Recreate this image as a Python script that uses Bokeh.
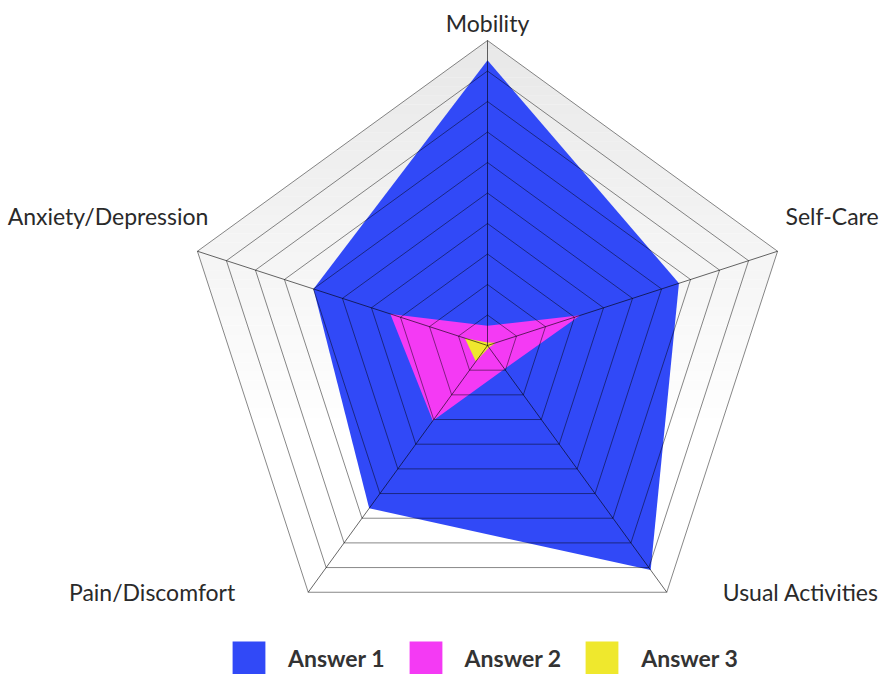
import numpy as np
from bokeh.plotting import figure
from bokeh.models import Range1d, Legend, LegendItem, ColumnDataSource
from bokeh.core.properties import value
from bokeh.embed import file_html
from bokeh.resources import INLINE

# ---------------- data ----------------
categories = ["Mobility", "Self-Care", "Usual Activities", "Pain/Discomfort", "Anxiety/Depression"]
answer1 = [93.5, 66.0, 91.0, 66.0, 60.0]
answer2 = [6.5, 32.0, 9.5, 30.5, 33.5]
answer3 = [1.0, 2.8, 0.8, 6.5, 7.8]
series_names = ["Answer 1", "Answer 2", "Answer 3"]
grid_levels = [10, 20, 30, 40, 50, 60, 70, 80, 90, 100]

# ---------------- style ----------------
colors = ["#3149F7", "#F43AF4", "#EFE82D"]
FONT = "Lato"
PX = 3.05  # pixels per data unit
R = 100.0
W, H = 881, 674
CX, CY = 487, 345

angles = np.deg2rad(90 - 72 * np.arange(len(categories)))

def polar(vals):
    v = np.asarray(vals, dtype=float)
    return list(v * np.cos(angles)), list(v * np.sin(angles))

p = figure(width=W, height=H,
           x_range=Range1d(-CX / PX, (W - CX) / PX),
           y_range=Range1d(-(H - CY) / PX, CY / PX),
           output_backend="svg", toolbar_location=None, min_border=0,
           x_axis_type=None, y_axis_type=None)
p.grid.visible = False
p.outline_line_color = None

# background gradient clipped to pentagon
ox, oy = polar([R] * len(categories))
pent = list(zip(ox, oy))

def clip(poly, y0, y1):
    def half(pts, keep, inter):
        out = []
        n = len(pts)
        for i in range(n):
            a, b = pts[i], pts[(i + 1) % n]
            ka, kb = keep(a), keep(b)
            if ka:
                out.append(a)
            if ka != kb:
                out.append(inter(a, b))
        return out
    def iy(yc):
        def f(a, b):
            t = (yc - a[1]) / (b[1] - a[1])
            return (a[0] + t * (b[0] - a[0]), yc)
        return f
    pts = half(poly, lambda q: q[1] >= y0, iy(y0))
    if not pts:
        return pts
    pts = half(pts, lambda q: q[1] <= y1, iy(y1))
    return pts

nb = 60
edges = np.linspace(min(oy), R, nb + 1)
bx, by, bc = [], [], []
for i in range(nb):
    y0, y1 = edges[i], edges[i + 1]
    pts = clip(pent, y0, y1 + 0.05)
    if len(pts) < 3:
        continue
    ym_px = CY - 0.5 * (y0 + y1) * PX
    t = min(max((ym_px - 40) / (430 - 40), 0), 1)
    g = int(round(232 + (255 - 232) * t))
    bx.append([q[0] for q in pts])
    by.append([q[1] for q in pts])
    bc.append("#%02x%02x%02x" % (g, g, g))
p.patches(bx, by, fill_color=bc, line_color=None)

# data polygons
renderers = []
for vals, c in zip([answer1, answer2, answer3], colors):
    x, y = polar(vals)
    r = p.patch(x, y, fill_color=c, fill_alpha=1.0, line_color=None)
    renderers.append(r)

# grid rings and spokes on top
gx, gy = [], []
for lv in grid_levels:
    x, y = polar([lv] * len(categories))
    gx.append(x + [x[0]])
    gy.append(y + [y[0]])
p.multi_line(gx, gy, line_color="black", line_alpha=0.47, line_width=1)
p.segment(x0=[0] * len(categories), y0=[0] * len(categories), x1=ox, y1=oy,
          line_color="black", line_alpha=0.6, line_width=1)

# category labels
lab = ColumnDataSource(dict(
    x=ox, y=oy, text=categories,
    align=["center", "left", "left", "right", "right"],
    xo=[0, 8, 56, -73, 11],
    yo=[-18, -35, 0, 0, -35],
))
p.text(x="x", y="y", text="text", source=lab, text_align="align",
       x_offset="xo", y_offset="yo", text_baseline="middle",
       text_font=value(FONT), text_font_size="23px", text_color="#2a2a2a")

legend = Legend(items=[LegendItem(label=n, renderers=[r]) for n, r in zip(series_names, renderers)],
                orientation="horizontal", location=(228, -4), padding=0, margin=0,
                spacing=20, label_standoff=19, glyph_width=41, glyph_height=41,
                label_height=41, label_text_font=FONT, label_text_font_size="23px",
                label_text_font_style="bold", label_text_color="#333333",
                border_line_color=None, background_fill_alpha=0)
p.add_layout(legend)

open("out.html", "w").write(file_html(p, INLINE))
